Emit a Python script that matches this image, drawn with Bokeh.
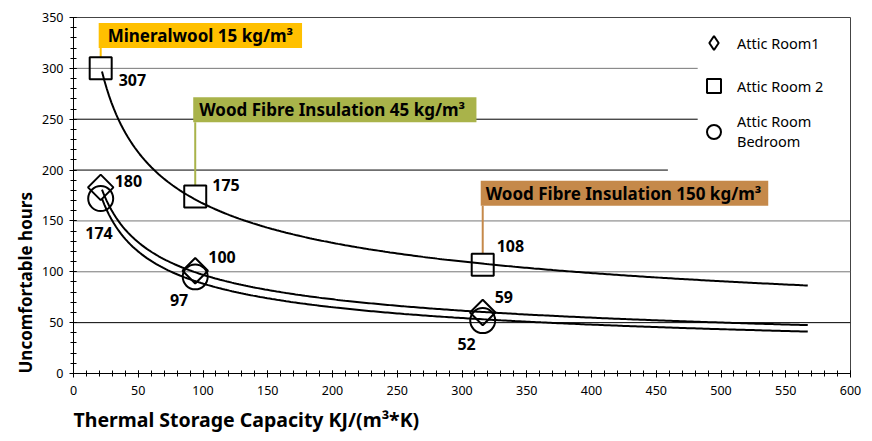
import numpy as np
from bokeh.plotting import figure
from bokeh.models import Range1d, SingleIntervalTicker, Legend, LegendItem, Label, Title
from bokeh.core.properties import value
from bokeh.embed import file_html
from bokeh.resources import INLINE

# ---- data ----
capacity = [21, 94, 316]                    # Thermal storage capacity KJ/(m3*K)
room1 = [183, 101, 60]                      # Attic Room1 (diamonds)
room2 = [300, 174, 107]                     # Attic Room 2 (squares)
bedroom = [172, 95, 52]                     # Attic Room Bedroom (circles)
room1_labels = ["180", "100", "59"]
room2_labels = ["307", "175", "108"]
bedroom_labels = ["174", "97", "52"]
trend_x_start = 22
trend_x_end = 567

materials = ["Mineralwool 15 kg/m³", "Wood Fibre Insulation  45 kg/m³", "Wood Fibre Insulation 150 kg/m³"]
material_colors = ["#FFC000", "#A9B34A", "#C5894A"]
callout_y = [320, 247, 165]

grid_levels = [50, 100, 150, 200, 250, 300]
grid_ends = [600, 600, 600, 459, 482, 482]
grid_colors = ["#000000", "#777777", "#777777", "#000000", "#000000", "#777777"]

FONT = "Noto Sans"
callout_pad_left = [9, 6, 5]
callout_pad_right = [9, 7, 7]

p = figure(frame_width=777, frame_height=356, x_range=Range1d(0, 600), y_range=Range1d(0, 350),
           output_backend="svg", toolbar_location=None,
           min_border_left=73, min_border_right=14, min_border_top=17, min_border_bottom=60)
p.xgrid.visible = False
p.ygrid.visible = False
p.outline_line_color = "#444444"

for ax in (p.xaxis[0], p.yaxis[0]):
    ax.ticker = SingleIntervalTicker(interval=50, num_minor_ticks=5)
    ax.axis_line_color = "black"
    ax.major_tick_line_color = "black"
    ax.minor_tick_line_color = "black"
    ax.major_tick_in = 3
    ax.major_tick_out = 4
    ax.minor_tick_in = 3
    ax.minor_tick_out = 3
    ax.major_label_text_font = FONT
    ax.major_label_text_font_size = "12.5px"
    ax.major_label_text_color = "black"
p.yaxis.major_label_standoff = 6
p.xaxis.major_label_standoff = 8

# grid lines
p.segment(x0=[0] * len(grid_levels), y0=grid_levels, x1=grid_ends, y1=grid_levels,
          line_color=grid_colors, line_width=1)

# power trend lines fitted to each series
xs = np.linspace(trend_x_start, trend_x_end, 300)
for ys in (room2, room1, bedroom):
    b, lna = np.polyfit(np.log(capacity), np.log(ys), 1)
    p.line(xs, np.exp(lna) * xs ** b, line_color="black", line_width=2)

# callout connectors and boxes
p.segment(x0=capacity, y0=callout_y, x1=capacity, y1=[v + 11 for v in room2],
          line_color=material_colors, line_width=2)
for cx, cy, txt, col, pl, pr in zip(capacity, callout_y, materials, material_colors,
                                    callout_pad_left, callout_pad_right):
    p.add_layout(Label(x=cx, y=cy, x_offset=-2, text=txt, text_font=FONT,
                       text_font_size="17px", text_font_style="bold", text_color="black",
                       text_align="left", text_baseline="bottom", background_fill_color=col,
                       padding=dict(left=pl, right=pr, top=1, bottom=1)))

# markers
r1 = p.scatter(capacity, room1, marker="square", angle=np.pi / 4, size=18,
               fill_color=None, line_color="black", line_width=2)
r2 = p.scatter(capacity, room2, marker="square", size=22,
               fill_color=None, line_color="black", line_width=2)
r3 = p.scatter(capacity, bedroom, marker="circle", size=25,
               fill_color=None, line_color="black", line_width=2)
# legend key for the diamond symbol (zero size, so it draws nothing on the chart)
r1_key = p.scatter(capacity, room1, marker="diamond", size=0, fill_color=None,
                   line_color="black", line_width=2)

# value labels
lab_kw = dict(text_font=value(FONT), text_font_size="16px", text_font_style="bold",
              text_color="black", text_baseline="middle")
p.text(capacity, room2, text=room2_labels, x_offset=[18, 17, 14], y_offset=[12, -12, -19],
       text_align="left", **lab_kw)
p.text(capacity, room1, text=room1_labels, x_offset=[14, 13, 12], y_offset=[-6, -14, -15],
       text_align="left", **lab_kw)
p.text(capacity, bedroom, text=bedroom_labels, x_offset=[12, -7, -7], y_offset=[34, 23, 23],
       text_align="right", **lab_kw)

legend = Legend(items=[LegendItem(label="Attic Room1", renderers=[r1_key]),
                       LegendItem(label="Attic Room 2", renderers=[r2]),
                       LegendItem(label="Attic Room\nBedroom", renderers=[r3])],
                location=(623, 222), glyph_width=35, glyph_height=35, spacing=8,
                padding=0, margin=0, label_standoff=6, border_line_color=None,
                background_fill_alpha=0, label_text_font=FONT, label_text_font_size="14.5px",
                label_text_color="black", label_height=35, label_text_line_height=1.0)
p.add_layout(legend)

p.add_layout(Title(text="Thermal Storage Capacity KJ/(m³*K)", align="left", text_font=FONT,
                   text_font_size="19.5px", text_font_style="bold", text_color="black",
                   standoff=12), "below")
p.add_layout(Title(text="Uncomfortable hours", align="left", text_font=FONT,
                   text_font_size="17px", text_font_style="bold", text_color="black",
                   standoff=5), "left")

open("out.html", "w").write(file_html(p, INLINE))
